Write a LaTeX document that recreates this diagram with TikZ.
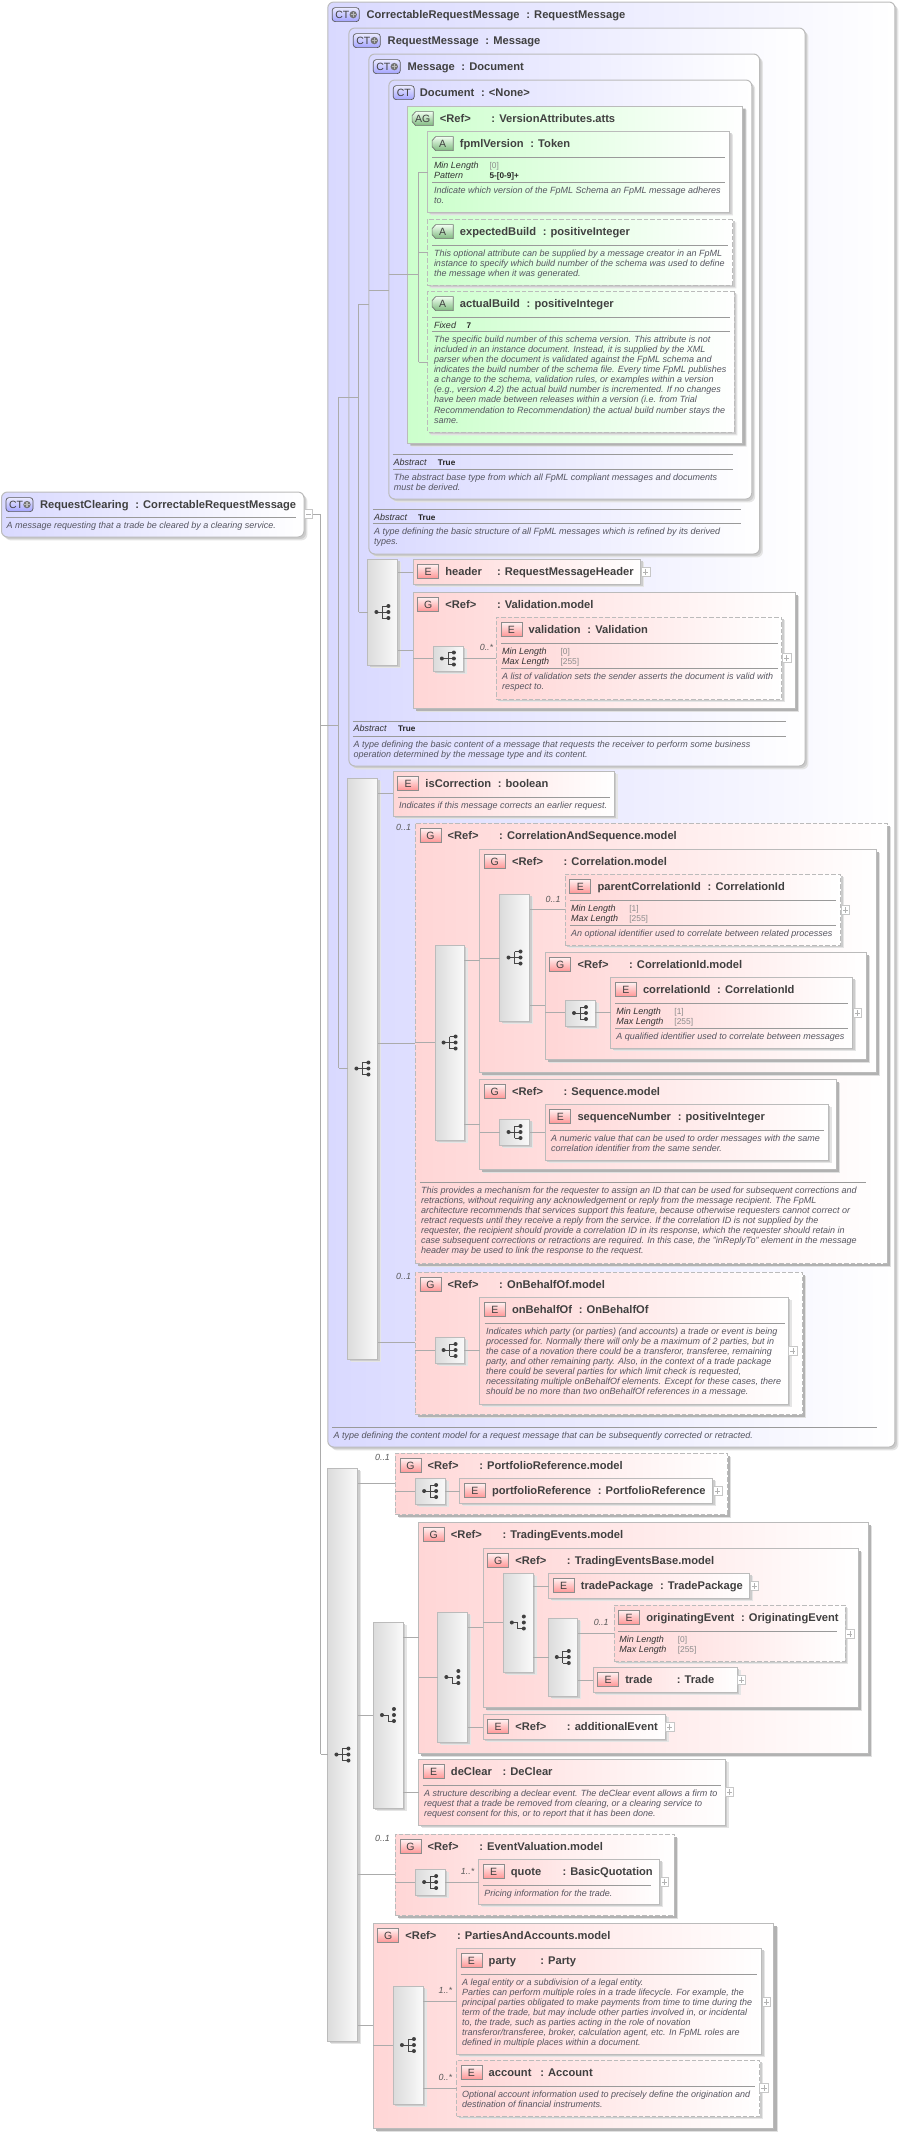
\documentclass[tikz,border=0pt]{standalone}
\usepackage{fontspec}
\setmainfont{Liberation Sans}
\usetikzlibrary{shapes.misc,shadows}
\definecolor{bord}{HTML}{BBBBBB}
\definecolor{conncol}{HTML}{ABABAB}
\definecolor{sepcol}{HTML}{9A9A9A}
\definecolor{ttlcol}{HTML}{404040}
\definecolor{dsccol}{HTML}{555560}
\definecolor{blueL}{HTML}{D9D9FF}
\definecolor{pinkL}{HTML}{FFD6D6}
\definecolor{greenL}{HTML}{CCFFCC}
\def\xu{1.11}
\tikzset{
  softshadow/.style={general shadow={shadow xshift=3.4pt,shadow yshift=-3.4pt,fill=black!10},general shadow={shadow xshift=2pt,shadow yshift=-2pt,fill=black!20}},
  hardshadow/.style={general shadow={shadow xshift=3.6pt,shadow yshift=-3.6pt,fill=black!12},general shadow={shadow xshift=2.6pt,shadow yshift=-2.6pt,fill=black!30}},
  basebox/.style={draw=bord,line width=1pt,inner sep=0pt,outer sep=0pt,anchor=north west},
  ctbox/.style={basebox,rounded corners=6pt,left color=blueL,right color=white,softshadow},
  grpbox/.style={basebox,left color=pinkL,right color=white,hardshadow},
  elbox/.style={basebox,left color=pinkL,right color=white,softshadow},
  agbox/.style={basebox,chamfered rectangle,chamfered rectangle corners={north west,south west},chamfered rectangle xsep=10pt,chamfered rectangle ysep=10pt,left color=greenL,right color=white,hardshadow},
  abox/.style={basebox,chamfered rectangle,chamfered rectangle corners={north west,south west},chamfered rectangle xsep=8pt,chamfered rectangle ysep=8pt,left color=greenL,right color=white,softshadow},
  compbox/.style={basebox,left color=black!14,right color=black!2,softshadow},
  optional/.style={dash pattern=on 4.5pt off 2pt},
  conn/.style={draw=conncol,line width=.8pt},
  sepline/.style={draw=sepcol,line width=.7pt},
  icn/.style={inner sep=0pt,outer sep=0pt,anchor=north west,minimum height=14pt,font=\fontsize{10.5}{10.5}\selectfont,text=ttlcol,line width=.7pt},
  iconE/.style={icn,minimum width=21pt,draw=black!45,top color=red!6,bottom color=red!42},
  iconCT/.style={icn,minimum width=21pt,rounded corners=3pt,draw=black!65,top color=blue!8,bottom color=blue!36},
  iconCTP/.style={icn,minimum width=27pt,rounded corners=3pt,draw=black!65,top color=blue!8,bottom color=blue!36,text width=24pt,align=left},
  iconApath/.style={draw=black!55,line width=.7pt,top color=green!6,bottom color=green!45!black!50},
  ttltxt/.style={inner sep=0pt,outer sep=0pt,anchor=base west,text=ttlcol,font=\fontsize{11.15}{13}\selectfont\bfseries},
  dsctxt/.style={inner sep=0pt,outer sep=0pt,anchor=north west,align=left,text=dsccol,font=\fontsize{9}{10.1}\selectfont\itshape},
  lbltxt/.style={inner sep=0pt,outer sep=0pt,anchor=base west,text=black!80,font=\fontsize{9}{10}\selectfont\itshape},
  valtxt/.style={inner sep=0pt,outer sep=0pt,anchor=base west,text=black!45,font=\fontsize{8.4}{10}\selectfont},
  fixtxt/.style={inner sep=0pt,outer sep=0pt,anchor=base west,text=black!85,font=\fontsize{8.2}{10}\selectfont\bfseries},
  multtxt/.style={inner sep=0pt,outer sep=0pt,anchor=east,text=black!65,font=\fontsize{8.9}{10}\selectfont\itshape},
  plusbox/.style={draw=black!22,fill=white,line width=.7pt,minimum size=8.4pt,inner sep=0pt,outer sep=0pt},
  symline/.style={draw=black!72,line width=.8pt},
}
\newcommand\Colname[1]{\setbox0=\hbox{#1}\ifdim\wd0<44.9pt\hbox to 51.6pt{#1\hfil}\else\hbox{#1\hspace{6.7pt}}\fi}
% box: style, name, l, t, r, b
\newcommand\bx[6]{\pgfmathsetmacro\bw{(#5-#3)*\xu}\pgfmathsetmacro\bh{#6-#4}%
  \node[#1,minimum width=\bw pt,minimum height=\bh pt] (#2) at (#3,#4) {};}
\newcommand\ttlE[4]{\node[iconE] (#1-i) at ([shift={(4,5.6)}]#1.north west) {#2};
  \node[ttltxt] (#1-t) at ([shift={(29,16)}]#1.north west) {\Colname{#3}: #4};}
\newcommand\ttlA[4]{\draw[iconApath] ([shift={(7.2,5.6)}]#1.north west) -- ([shift={(23,5.6)}]#1.north west) -- ([shift={(23,19.6)}]#1.north west) -- ([shift={(7.2,19.6)}]#1.north west) -- ([shift={(4,15.6)}]#1.north west) -- ([shift={(4,9.6)}]#1.north west) -- cycle;
  \node[icn,minimum width=21pt] (#1-i) at ([shift={(4,5.6)}]#1.north west) {#2};
  \node[ttltxt] (#1-t) at ([shift={(29,16)}]#1.north west) {\Colname{#3}: #4};}
\newcommand\ttlC[3]{\node[iconCT] (#1-i) at ([shift={(4,5.6)}]#1.north west) {CT};
  \node[ttltxt] (#1-t) at ([shift={(28,16)}]#1.north west) {\Colname{#2}: #3};}
% CT with plus: name, icon dx, title dx, name, type
\newcommand\ttlPx[5]{\node[iconCTP] (#1-i) at ([shift={(#2,5.6)}]#1.north west) {\hspace{1.6pt}CT};
  \begin{scope}[x=1pt]
  \fill[black!55] ([shift={(-6,0)}]#1-i.east) circle (3.7pt);
  \draw[black!28,line width=1.1pt] ([shift={(-8.6,0)}]#1-i.east) -- ([shift={(-3.4,0)}]#1-i.east) ([shift={(-6,-2.6)}]#1-i.east) -- ([shift={(-6,2.6)}]#1-i.east);
  \end{scope}
  \node[ttltxt] (#1-t) at ([shift={(#3,16)}]#1.north west) {\Colname{#4}: #5};}
\newcommand\ttlP[3]{\ttlPx{#1}{4}{35}{#2}{#3}}
\newcommand\sepl[3]{\draw[sepline] (#1,#3) -- (#2,#3);}
\newcommand\dsc[4]{\node[dsctxt] (#1) at (#2,#3-7) {\rule{0pt}{7pt}#4};}
\newcommand\prop[6]{\node[lbltxt] (#1-l) at (#2,#4) {#5};\node[valtxt] (#1-v) at (#3,#4) {#6};}
\newcommand\fixd[6]{\node[lbltxt] (#1-l) at (#2,#4) {#5};\node[fixtxt] (#1-v) at (#3,#4) {#6};}
\newcommand\mult[4]{\node[multtxt] (#1) at (#2,#3) {#4};}
\newcommand\pls[3]{\node[plusbox] (#1) at (#2,#3) {};
  \begin{scope}[x=1pt]\draw[black!30,line width=.6pt] ([shift={(-2.6,0)}]#1.center) -- ([shift={(2.6,0)}]#1.center) ([shift={(0,-2.6)}]#1.center) -- ([shift={(0,2.6)}]#1.center);\end{scope}}
\newcommand\seqsym[1]{\begin{scope}[x=1pt,xshift=35.2pt,shift={(#1.center)}]
  \draw[symline] (-6.3,0) -- (-.3,0) (-.3,-6) -- (-.3,6) (-.3,-6) -- (5.7,-6) (-.3,0) -- (5.7,0) (-.3,6) -- (5.7,6);
  \fill[black!75] (-6.3,0) circle (2pt) (5.7,-6) circle (2pt) (5.7,0) circle (2pt) (5.7,6) circle (2pt);
  \end{scope}}
\newcommand\chosym[1]{\begin{scope}[x=1pt,xshift=35.2pt,shift={(#1.center)}]
  \draw[symline] (-6.3,0) -- (-.3,0) (-.3,0) -- (-.3,6) (-.3,6) -- (5.7,6);
  \fill[black!75] (-6.3,0) circle (2pt) (5.7,-6) circle (2pt) (5.7,0) circle (2pt) (5.7,6) circle (2pt);
  \end{scope}}
\newcommand\cn[3]{\draw[conn] (#1 |- 0,#3) -- (#2 |- 0,#3);}
\begin{document}
\begin{tikzpicture}[x=1.11pt,y=-1pt,xshift=-35.2pt]
\begin{scope}[x=1pt,xshift=35.2pt]
\def\xu{1}
\useasboundingbox (0,0) rectangle (899,2134);
\fill[white] (0,0) rectangle (899,2134);
% root
\bx{ctbox}{root}{1.5}{492}{304}{537}
\ttlPx{root}{4.5}{38.5}{RequestClearing}{CorrectableRequestMessage}
\sepl{6}{296}{517}
\dsc{root-d}{6.7}{528}{A message requesting that a trade be cleared by a clearing service.}
\node[plusbox,minimum size=8.5pt] (rootm) at (308.5,514) {};
\draw[black!30,line width=.6pt] ([shift={(-2.4,0)}]rootm.center) -- ([shift={(2.4,0)}]rootm.center);
\end{scope}
% CorrectableRequestMessage
\bx{ctbox}{crm}{327}{2}{838}{1447}
\ttlP{crm}{CorrectableRequestMessage}{RequestMessage}
\bx{ctbox}{rm}{346}{28}{757}{766}
\ttlP{rm}{RequestMessage}{Message}
\bx{ctbox}{msg}{364}{54}{716}{554}
\ttlP{msg}{Message}{Document}
\bx{ctbox}{doc}{382}{80}{709}{499}
\ttlC{doc}{Document}{<None>}
\bx{agbox}{ag}{399}{106}{701}{443}
\ttlA{ag}{AG}{<Ref>}{VersionAttributes.atts}
\bx{abox}{fpml}{417}{131}{689}{212}
\ttlA{fpml}{A}{fpmlVersion}{Token}
\sepl{421}{685}{157.3}
\prop{fpml1}{422.7}{472.7}{168}{Min Length}{[0]}
\fixd{fpml2}{422.7}{472.7}{178}{Pattern}{5-[0-9]+}
\sepl{421}{685}{182.3}
\dsc{fpml-d}{422.7}{193}{Indicate which version of the FpML Schema an FpML message adheres\\to.}
\bx{abox,optional}{exb}{417}{219}{692}{285}
\ttlA{exb}{A}{expectedBuild}{positiveInteger}
\sepl{421}{688}{245.3}
\dsc{exb-d}{422.7}{256.3}{This optional attribute can be supplied by a message creator in an FpML\\instance to specify which build number of the schema was used to define\\the message when it was generated.}
\bx{abox,optional}{acb}{417}{291}{693}{432}
\ttlA{acb}{A}{actualBuild}{positiveInteger}
\sepl{421}{689}{317.3}
\fixd{acb1}{422.7}{452}{328}{Fixed}{7}
\sepl{421}{689}{331.7}
\dsc{acb-d}{422.7}{342.3}{The specific build number of this schema version. This attribute is not\\included in an instance document. Instead, it is supplied by the XML\\parser when the document is validated against the FpML schema and\\indicates the build number of the schema file. Every time FpML publishes\\a change to the schema, validation rules, or examples within a version\\(e.g., version 4.2) the actual build number is incremented. If no changes\\have been made between releases within a version (i.e. from Trial\\Recommendation to Recommendation) the actual build number stays the\\same.}
\sepl{385.7}{692}{454.3}
\fixd{doc1}{386.3}{426.3}{465}{Abstract}{True}
\sepl{385.7}{692}{469.3}
\dsc{doc-d}{386.6}{480}{The abstract base type from which all FpML compliant messages and documents\\must be derived.}
\sepl{367.7}{699.3}{509.3}
\fixd{msg1}{368.7}{408.3}{520}{Abstract}{True}
\sepl{367.7}{699.3}{523.3}
\dsc{msg-d}{368.7}{534.3}{A type defining the basic structure of all FpML messages which is refined by its derived\\types.}
% RM content
\bx{compbox}{c1}{363}{559}{390}{665}\seqsym{c1}
\bx{elbox}{hdr}{404}{559}{609}{584}
\ttlE{hdr}{E}{header}{RequestMessageHeader}
\pls{hdr-p}{613.4}{572}
\bx{grpbox}{valg}{404}{592}{748}{708}
\ttlE{valg}{G}{<Ref>}{Validation.model}
\bx{compbox}{c1a}{422}{646}{449}{671}\seqsym{c1a}
\bx{elbox,optional}{val}{479}{617}{736}{699}
\ttlE{val}{E}{validation}{Validation}
\sepl{483.3}{732.7}{643.3}
\prop{val1}{484}{536.7}{654}{Min Length}{[0]}
\prop{val2}{484}{536.7}{664}{Max Length}{[255]}
\sepl{483.3}{732.7}{668.7}
\dsc{val-d}{484}{679}{A list of validation sets the sender asserts the document is valid with\\respect to.}
\pls{val-p}{740.4}{658}
\mult{val-m}{476}{647}{0..*}
\sepl{349.3}{740}{721.3}
\fixd{rm1}{350.3}{390.3}{731.7}{Abstract}{True}
\sepl{349.3}{740}{736}
\dsc{rm-d}{350.3}{747}{A type defining the basic content of a message that requests the receiver to perform some business\\operation determined by the message type and its content.}
% CRM sequence
\bx{compbox}{c2}{345}{778}{372}{1359}\seqsym{c2}
\bx{elbox}{isc}{386}{771}{585}{816}
\ttlE{isc}{E}{isCorrection}{boolean}
\sepl{390}{581.7}{797}
\dsc{isc-d}{391.3}{808}{Indicates if this message corrects an earlier request.}
\bx{grpbox,optional}{cas}{406}{823}{831}{1263}
\ttlE{cas}{G}{<Ref>}{CorrelationAndSequence.model}
\mult{cas-m}{402}{827}{0..1}
\bx{compbox}{c3}{424}{945}{450}{1140}\seqsym{c3}
\bx{grpbox}{corm}{464}{849}{821}{1072}
\ttlE{corm}{G}{<Ref>}{Correlation.model}
\bx{compbox}{c4}{482}{894}{509}{1021}\seqsym{c4}
\bx{elbox,optional}{pci}{541}{874}{789}{945}
\ttlE{pci}{E}{parentCorrelationId}{CorrelationId}
\sepl{545}{785.3}{900.3}
\prop{pci1}{546.3}{598.7}{911}{Min Length}{[1]}
\prop{pci2}{546.3}{598.7}{921}{Max Length}{[255]}
\sepl{545}{785.3}{925.3}
\dsc{pci-d}{546.3}{936}{An optional identifier used to correlate between related processes}
\pls{pci-p}{793.3}{910}
\mult{pci-m}{536.7}{899}{0..1}
\bx{grpbox}{cidm}{523}{952}{812}{1059}
\ttlE{cidm}{G}{<Ref>}{CorrelationId.model}
\bx{compbox}{c4a}{541}{1000}{568}{1026}\seqsym{c4a}
\bx{elbox}{cid}{582}{977}{800}{1048}
\ttlE{cid}{E}{correlationId}{CorrelationId}
\sepl{586}{796}{1003.3}
\prop{cid1}{587}{639.3}{1014}{Min Length}{[1]}
\prop{cid2}{587}{639.3}{1024}{Max Length}{[255]}
\sepl{586}{796}{1028.3}
\dsc{cid-d}{587}{1039}{A qualified identifier used to correlate between messages}
\pls{cid-p}{804.3}{1013}
\bx{grpbox}{seqm}{464}{1079}{785}{1169}
\ttlE{seqm}{G}{<Ref>}{Sequence.model}
\bx{compbox}{c5}{482}{1119}{509}{1145}\seqsym{c5}
\bx{elbox}{sqn}{523}{1104}{778}{1160}
\ttlE{sqn}{E}{sequenceNumber}{positiveInteger}
\sepl{527}{774}{1130.3}
\dsc{sqn-d}{528.3}{1141}{A numeric value that can be used to order messages with the same\\correlation identifier from the same sender.}
\sepl{410}{812.3}{1182}
\dsc{cas-d}{411}{1193}{This provides a mechanism for the requester to assign an ID that can be used for subsequent corrections and\\retractions, without requiring any acknowledgement or reply from the message recipient. The FpML\\architecture recommends that services support this feature, because otherwise requesters cannot correct or\\retract requests until they receive a reply from the service. If the correlation ID is not supplied by the\\requester, the recipient should provide a correlation ID in its response, which the requester should retain in\\case subsequent corrections or retractions are required. In this case, the "inReplyTo" element in the message\\header may be used to link the response to the request.}
\bx{grpbox,optional}{obg}{406}{1272}{755}{1414}
\ttlE{obg}{G}{<Ref>}{OnBehalfOf.model}
\mult{obg-m}{402}{1276}{0..1}
\bx{compbox}{c6}{424}{1337}{450}{1363}\seqsym{c6}
\bx{elbox}{obo}{464}{1297}{742}{1404}
\ttlE{obo}{E}{onBehalfOf}{OnBehalfOf}
\sepl{468.3}{739}{1323.3}
\dsc{obo-d}{469.7}{1334}{Indicates which party (or parties) (and accounts) a trade or event is being\\processed for. Normally there will only be a maximum of 2 parties, but in\\the case of a novation there could be a transferor, transferee, remaining\\party, and other remaining party. Also, in the context of a trade package\\there could be several parties for which limit check is requested,\\necessitating multiple onBehalfOf elements. Except for these cases, there\\should be no more than two onBehalfOf references in a message.}
\pls{obo-p}{746}{1351}
\sepl{331}{822}{1427}
\dsc{crm-d}{332.3}{1438}{A type defining the content model for a request message that can be subsequently corrected or retracted.}
% Outer sequence
\bx{compbox}{c7}{327}{1468}{354}{2041}\seqsym{c7}
\bx{grpbox,optional}{prm}{388}{1453}{687}{1514}
\ttlE{prm}{G}{<Ref>}{PortfolioReference.model}
\mult{prm-m}{383}{1457}{0..1}
\bx{compbox}{c8}{406}{1478}{433}{1504}\seqsym{c8}
\bx{elbox}{prf}{446}{1478}{674}{1503}
\ttlE{prf}{E}{portfolioReference}{PortfolioReference}
\pls{prf-p}{678.3}{1491}
\bx{compbox}{c9}{368}{1622}{395}{1808}\chosym{c9}
\bx{grpbox}{tem}{409}{1522}{814}{1753}
\ttlE{tem}{G}{<Ref>}{TradingEvents.model}
\bx{compbox}{c10}{426}{1612}{453}{1742}\chosym{c10}
\bx{grpbox}{teb}{467}{1548}{805}{1707}
\ttlE{teb}{G}{<Ref>}{TradingEventsBase.model}
\bx{compbox}{c11}{485}{1573}{512}{1672}\chosym{c11}
\bx{elbox}{tpk}{526}{1573}{707}{1598}
\ttlE{tpk}{E}{tradePackage}{TradePackage}
\pls{tpk-p}{711.3}{1586}
\bx{compbox}{c12}{526}{1618}{552}{1696}\seqsym{c12}
\bx{elbox,optional}{oev}{585}{1605}{793}{1661}
\ttlE{oev}{E}{originatingEvent}{OriginatingEvent}
\sepl{588.7}{785.7}{1631}
\prop{oev1}{589.7}{642.3}{1642}{Min Length}{[0]}
\prop{oev2}{589.7}{642.3}{1652}{Max Length}{[255]}
\pls{oev-p}{797.3}{1634}
\mult{oev-m}{580}{1622}{0..1}
\bx{elbox}{trd}{566}{1667}{696}{1692}
\ttlE{trd}{E}{trade}{Trade}
\pls{trd-p}{699.6}{1680}
\bx{elbox}{aev}{467}{1714}{631}{1739}
\ttlE{aev}{E}{<Ref>}{additionalEvent}
\pls{aev-p}{635}{1727}
\bx{elbox}{dcl}{409}{1759}{685}{1825}
\ttlE{dcl}{E}{deClear}{DeClear}
\sepl{412.7}{681.7}{1785.3}
\dsc{dcl-d}{413.7}{1796}{A structure describing a declear event. The deClear event allows a firm to\\request that a trade be removed from clearing, or a clearing service to\\request consent for this, or to report that it has been done.}
\pls{dcl-p}{689}{1792}
\bx{grpbox,optional}{evm}{388}{1834}{639}{1915}
\ttlE{evm}{G}{<Ref>}{EventValuation.model}
\mult{evm-m}{383}{1838}{0..1}
\bx{compbox}{c13}{406}{1869}{433}{1895}\seqsym{c13}
\bx{elbox}{quo}{463}{1859}{626}{1904}
\ttlE{quo}{E}{quote}{BasicQuotation}
\sepl{467}{618.3}{1885.3}
\dsc{quo-d}{468}{1896}{Pricing information for the trade.}
\pls{quo-p}{630}{1882}
\mult{quo-m}{459}{1871}{1..*}
\bx{grpbox}{pam}{368}{1923}{729}{2128}
\ttlE{pam}{G}{<Ref>}{PartiesAndAccounts.model}
\bx{compbox}{c14}{386}{1986}{413}{2104}\seqsym{c14}
\bx{elbox}{pty}{443}{1948}{718}{2054}
\ttlE{pty}{E}{party}{Party}
\sepl{446.7}{713.7}{1974.3}
\dsc{pty-d}{448}{1985}{A legal entity or a subdivision of a legal entity.\\Parties can perform multiple roles in a trade lifecycle. For example, the\\principal parties obligated to make payments from time to time during the\\term of the trade, but may include other parties involved in, or incidental\\to, the trade, such as parties acting in the role of novation\\transferor/transferee, broker, calculation agent, etc. In FpML roles are\\defined in multiple places within a document.}
\pls{pty-p}{722}{2002}
\mult{pty-m}{439}{1990}{1..*}
\bx{elbox,optional}{acc}{443}{2060}{716}{2116}
\ttlE{acc}{E}{account}{Account}
\sepl{446.7}{711.7}{2086.3}
\dsc{acc-d}{448}{2097.3}{Optional account information used to precisely define the origination and\\destination of financial instruments.}
\pls{acc-p}{720}{2088}
\mult{acc-m}{439}{2077}{0..*}
% connectors
\coordinate (t0) at (320.5,514);
\coordinate (t1) at (337,725);
\coordinate (t2) at (355,397);
\coordinate (t3) at (409,274);
\draw[conn] (rootm.east) -- (t0) -- (t0 |- 0,1754);
\cn{t0}{crm.west}{725}
\cn{t0}{c7.west}{1754}
\cn{crm.west}{t1}{725}
\draw[conn] (t1 |- 0,397) -- (t1 |- 0,1068);
\cn{t1}{rm.west}{397}
\cn{t1}{c2.west}{1068}
\cn{rm.west}{t2}{397}
\draw[conn] (t2 |- 0,304) -- (t2 |- 0,612);
\cn{t2}{msg.west}{304}
\cn{t2}{c1.west}{612}
\cn{msg.west}{doc.west}{290}
\cn{doc.west}{t3}{274}
\draw[conn] (t3 |- 0,172) -- (t3 |- 0,362);
\cn{t3}{fpml.west}{172}
\cn{t3}{exb.west}{252}
\cn{t3}{acb.west}{362}
\cn{c1.east}{hdr.west}{572}
\cn{c1.east}{valg.west}{650}
\cn{valg.west}{c1a.west}{658}
\cn{c1a.east}{val.west}{658}
\cn{c2.east}{isc.west}{793}
\cn{c2.east}{cas.west}{1043}
\cn{cas.west}{c3.west}{1042}
\cn{c3.east}{corm.west}{960}
\cn{corm.west}{c4.west}{958}
\cn{c4.east}{pci.west}{909}
\cn{c4.east}{cidm.west}{1005}
\cn{cidm.west}{c4a.west}{1012}
\cn{c4a.east}{cid.west}{1012}
\cn{c3.east}{seqm.west}{1124}
\cn{seqm.west}{c5.west}{1132}
\cn{c5.east}{sqn.west}{1132}
\cn{c2.east}{obg.west}{1342}
\cn{obg.west}{c6.west}{1350}
\cn{c6.east}{obo.west}{1350}
\cn{c7.east}{prm.west}{1483}
\cn{prm.west}{c8.west}{1491}
\cn{c8.east}{prf.west}{1491}
\cn{c7.east}{c9.west}{1715}
\cn{c9.east}{tem.west}{1637}
\cn{tem.west}{c10.west}{1677}
\cn{c10.east}{teb.west}{1627}
\cn{teb.west}{c11.west}{1622}
\cn{c11.east}{tpk.west}{1586}
\cn{c11.east}{c12.west}{1657}
\cn{c12.east}{oev.west}{1633}
\cn{c12.east}{trd.west}{1680}
\cn{c10.east}{aev.west}{1727}
\cn{c9.east}{dcl.west}{1792}
\cn{c7.east}{evm.west}{1874}
\cn{evm.west}{c13.west}{1882}
\cn{c13.east}{quo.west}{1882}
\cn{c7.east}{pam.west}{2025}
\cn{pam.west}{c14.west}{2045}
\cn{c14.east}{pty.west}{2001}
\cn{c14.east}{acc.west}{2088}
\end{tikzpicture}
\end{document}
